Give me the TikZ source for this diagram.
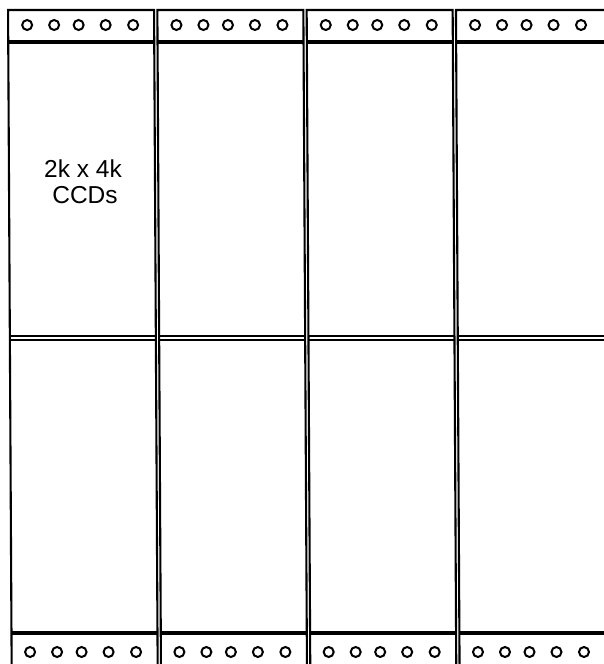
\documentclass[tikz,border=0pt]{standalone}
\usepackage{fontspec}
\setmainfont{Liberation Sans}
\begin{document}
\begin{tikzpicture}[x=1pt,y=-1pt,
  edge/.style={line width=2.1pt},
  padline/.style={line width=3.4pt},
  seam/.style={line width=1.7pt},
  pad/.style={circle,draw,line width=2pt,minimum size=10pt,inner sep=0pt},
  lbl/.style={font=\fontsize{24.5}{28}\selectfont, anchor=base, inner sep=0pt}]
\useasboundingbox (0,0) rectangle (603,664);
\begin{scope}[xslant=-0.0055]
 \foreach \i/\L in {1/8,2/157.3,3/306.6,4/455.9} {
   \pgfmathsetmacro\R{\L+146}
   \ifnum\i=4 \pgfmathsetmacro\R{\L+160}\fi
   \draw[edge] (\L,700) -- (\L,10) -- (\R,10) -- (\R,700);
   \draw[padline] (\L,42) -- (\R,42);
   \draw[padline] (\L,633) -- (\R,633);
   \draw[seam] (\L,336) -- (\R,336);
   \draw[seam] (\L,339.7) -- (\R,339.7);
   \foreach \o [count=\k] in {19,46,70.5,97.5,125} {
      \node[pad] (t\i-\k) at (\L+\o,25) {};
      \node[pad] (b\i-\k) at (\L+\o-0.5,652) {};
   }
 }
\end{scope}
\node[lbl] (l1) at (83,177) {2k x 4k};
\node[lbl] (l2) at (85,203) {CCDs};
\end{tikzpicture}
\end{document}
